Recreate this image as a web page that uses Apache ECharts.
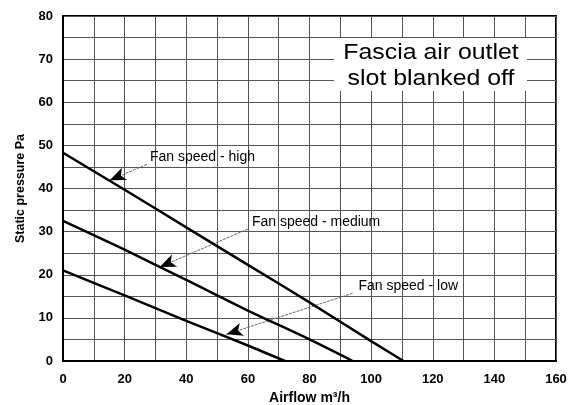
<!DOCTYPE html>
<html><head><meta charset="utf-8">
<script src="https://cdn.jsdelivr.net/npm/echarts@6/dist/echarts.min.js"></script>
<style>html,body{margin:0;padding:0;background:#fff}#c{width:576px;height:405px}</style>
</head><body><div id="c"></div>
<script>
// Data (airflow m³/h, static pressure Pa)
const highSpeed = [[0,48.3],[20,39.7],[40,31.0],[60,22.3],[80,13.6],[100,4.6],[110.5,0]];
const mediumSpeed = [[0,32.5],[20,25.8],[40,18.8],[60,11.7],[80,5.0],[94,0]];
const lowSpeed = [[0,21.0],[20,15.2],[40,9.3],[60,3.6],[72,0]];
const seriesNames = ['Fan speed - high','Fan speed - medium','Fan speed - low'];
// annotation anchors in data space: label position, arrow start, arrow tip
const labelPos = [[28.2,47.3],[61.3,32.3],[95.9,17.3]];
const arrowStart = [[27.2,45.6],[60.0,30.6],[94.0,15.7]];
const arrowTip = [[15.2,41.9],[31.4,21.8],[53.1,6.2]];
const xTicks = [0,20,40,60,80,100,120,140,160];
const yTicks = [0,10,20,30,40,50,60,70,80];

const FONT = 'Liberation Sans, Arial, sans-serif';
const chart = echarts.init(document.getElementById('c'), null, {renderer:'canvas'});
const allData = [highSpeed, mediumSpeed, lowSpeed];
const series = allData.map((d,i)=>{
  const s = arrowStart[i], t = arrowTip[i];
  const near = [t[0] + 0.08*(s[0]-t[0]), t[1] + 0.08*(s[1]-t[1])];
  return {
    name: seriesNames[i], type:'line', data:d, symbol:'none', smooth:0.3,
    lineStyle:{color:'#000', width:2.5}, z:5,
    markLine:{
      silent:true, symbol:['none','none'], symbolSize:[10,16],
      label:{show:false},
      data:[
        [{coord:s, lineStyle:{color:'#666', width:1, type:[3,1]}}, {coord:t}],
        [{coord:near, symbol:'none', lineStyle:{color:'#000', width:1, type:'solid'}}, {coord:t, symbol:'arrow'}]
      ]
    },
    markPoint:{
      silent:true, symbol:'circle', symbolSize:0,
      label:{show:true, position:'right', distance:0, color:'#000', fontFamily:FONT, fontSize:14, formatter:seriesNames[i]},
      data:[{coord:labelPos[i]}]
    }
  };
});

chart.setOption({
  animation:false,
  backgroundColor:'#fff',
  grid:{left:63, right:20, top:16, bottom:44, outerBoundsMode:'none', containLabel:false,
    show:true, borderColor:'#000', borderWidth:2, backgroundColor:'transparent'},
  xAxis:{type:'value', min:0, max:160, interval:10,
    name:'Airflow m³/h', nameLocation:'middle', nameGap:29,
    nameTextStyle:{fontFamily:FONT, fontWeight:'bold', fontSize:14, color:'#000'},
    axisLine:{show:true, lineStyle:{color:'#000', width:2}},
    axisTick:{show:false},
    axisLabel:{margin:12, fontFamily:FONT, fontWeight:'bold', fontSize:13, color:'#000',
      formatter:v=> xTicks.includes(v) ? String(v) : ''},
    splitLine:{show:true, lineStyle:{color:'#555', width:1}}
  },
  yAxis:{type:'value', min:0, max:80, interval:5,
    name:'Static pressure Pa', nameLocation:'middle', nameGap:36, nameRotate:90,
    nameTextStyle:{fontFamily:FONT, fontWeight:'bold', fontSize:12.5, color:'#000'},
    axisLine:{show:true, lineStyle:{color:'#000', width:2}},
    axisTick:{show:false},
    axisLabel:{margin:10, fontFamily:FONT, fontWeight:'bold', fontSize:13, color:'#000',
      formatter:v=> yTicks.includes(v) ? String(v) : ''},
    splitLine:{show:true, lineStyle:{color:'#555', width:1}}
  },
  graphic:[{
    type:'rect', x:334, y:38, shape:{width:193, height:53}, style:{fill:'#fff'}, z:10
  },{
    type:'text', x:431, y:40, z:11, scaleX:1.13,
    style:{text:'Fascia air outlet\nslot blanked off', fill:'#000', fontSize:22, fontFamily:FONT,
      textAlign:'center', textVerticalAlign:'top', lineHeight:26}
  }],
  series:series
});
</script></body></html>
